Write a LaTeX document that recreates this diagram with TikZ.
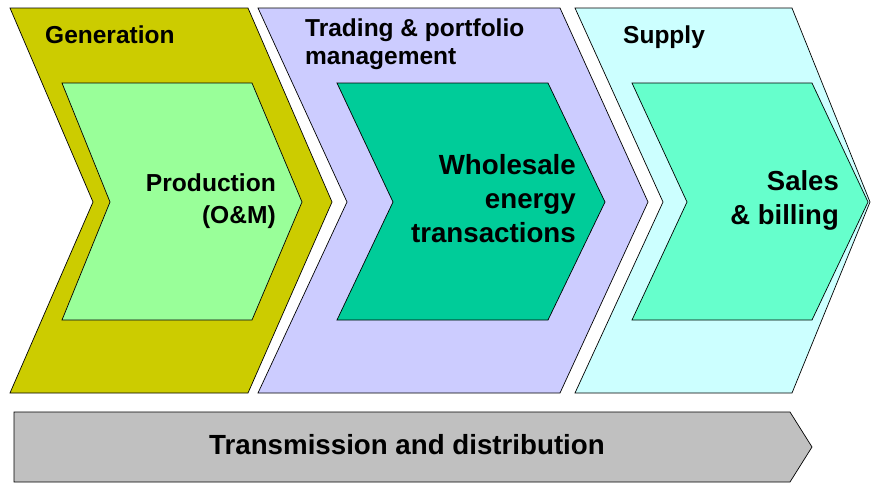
\documentclass[tikz,border=0pt]{standalone}
\usepackage{fontspec}
\setmainfont{Liberation Sans}
\definecolor{genolive}{HTML}{CCCC00}
\definecolor{prodgreen}{HTML}{99FF99}
\definecolor{tradeblue}{HTML}{CCCCFF}
\definecolor{wholegreen}{HTML}{00CC99}
\definecolor{supplycyan}{HTML}{CCFFFF}
\definecolor{salesgreen}{HTML}{66FFCC}
\definecolor{tdgray}{HTML}{C0C0C0}

\begin{document}
\begin{tikzpicture}[x=1pt,y=-1pt,
  chev/.style={draw=black,line width=0.7pt,line join=miter},
  head/.style={font=\fontsize{24.5}{28}\selectfont\bfseries,inner sep=0pt,align=left},
  big/.style={font=\fontsize{27.7}{34}\selectfont\bfseries,inner sep=0pt,align=right}]
\useasboundingbox (0,0) rectangle (871,483);

% outer chevrons
\draw[chev,fill=genolive]   (10,8) -- (248,8) -- (332,202) -- (248,393) -- (10,393) -- (93,202) -- cycle;
\draw[chev,fill=tradeblue]  (258,8) -- (560,8) -- (648,202) -- (560,393) -- (258,393) -- (347,202) -- cycle;
\draw[chev,fill=supplycyan] (575,8) -- (792,8) -- (870,202) -- (792,393) -- (575,393) -- (663,202) -- cycle;

% inner chevrons
\draw[chev,fill=prodgreen]  (62,83) -- (252,83) -- (302,202) -- (252,320) -- (62,320) -- (110,202) -- cycle;
\draw[chev,fill=wholegreen] (337,83) -- (548,83) -- (605,202) -- (548,320) -- (337,320) -- (393,202) -- cycle;
\draw[chev,fill=salesgreen] (632,83) -- (812,83) -- (868,202) -- (812,320) -- (632,320) -- (687,202) -- cycle;

% bottom bar
\draw[chev,fill=tdgray] (14,412) -- (790,412) -- (812,447) -- (790,482) -- (14,482) -- cycle;

\node[head,anchor=west] at (45,35) (gen) {Generation};
\node[head,anchor=west] at (305,44) (trade) {Trading \& portfolio\\management};
\node[head,anchor=west] at (623,37) (supply) {Supply};

\node[big,anchor=east,font=\fontsize{24.6}{32}\selectfont\bfseries] at (276,201) (prod) {Production\\(O\&M)};
\node[big,anchor=east] at (576,199) (whole) {Wholesale\\energy\\transactions};
\node[big,anchor=east,font=\fontsize{27.5}{34}\selectfont\bfseries] at (839,200) (sales) {Sales\\\& billing};
\node[big,anchor=center] at (407,445) (td) {Transmission and distribution};
\end{tikzpicture}
\end{document}
